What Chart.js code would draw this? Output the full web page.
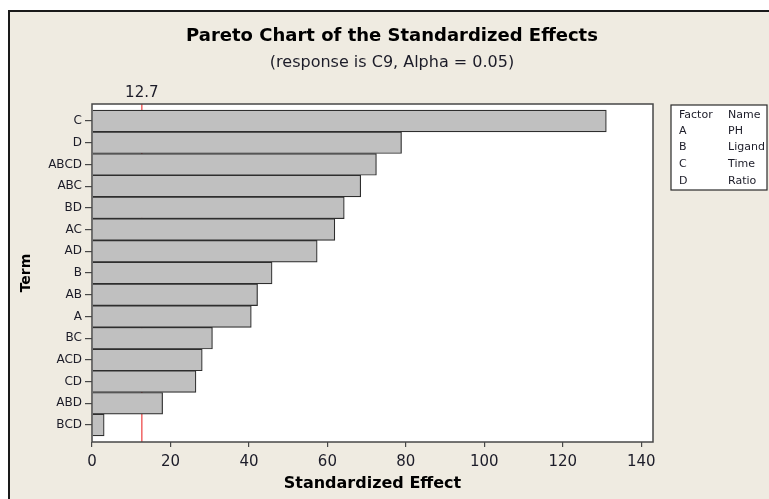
<!DOCTYPE html>
<html>
<head>
<meta charset="utf-8">
<script src="https://cdn.jsdelivr.net/npm/chart.js@4"></script>
<style>
  body { margin: 0; background: #ffffff; }
  canvas { display: block; }
</style>
</head>
<body>
<canvas id="pareto" width="769" height="499"></canvas>
<script>
// data
const terms = ['C', 'D', 'ABCD', 'ABC', 'BD', 'AC', 'AD', 'B', 'AB', 'A', 'BC', 'ACD', 'CD', 'ABD', 'BCD'];
const effects = [131.1, 78.9, 72.5, 68.5, 64.3, 61.9, 57.4, 45.9, 42.2, 40.6, 30.7, 28.1, 26.5, 18.0, 3.1];
const xTicks = [0, 20, 40, 60, 80, 100, 120, 140];
const criticalValue = 12.7;
const factors = ['A', 'B', 'C', 'D'];
const factorNames = ['PH', 'Ligand', 'Time', 'Ratio'];

const beige = '#efebe1';
const frameColor = '#474747';
const textColor = '#1c1c28';

// background, white plot area and the beige frame
const backdrop = {
    id: 'backdrop',
    beforeDraw(chart) {
        const ctx = chart.ctx;
        const a = chart.chartArea;
        ctx.save();
        ctx.fillStyle = '#ffffff';
        ctx.fillRect(0, 0, chart.width, chart.height);
        ctx.fillStyle = beige;
        ctx.fillRect(9, 11, chart.width - 9, chart.height - 11);
        ctx.strokeStyle = '#1a1a1a';
        ctx.lineWidth = 2;
        ctx.beginPath();
        ctx.moveTo(9, chart.height);
        ctx.lineTo(9, 11);
        ctx.lineTo(chart.width, 11);
        ctx.stroke();
        ctx.fillStyle = '#ffffff';
        ctx.fillRect(a.left, a.top, a.right - a.left, a.bottom - a.top);
        ctx.restore();
    }
};

// red reference line, drawn under the bars
const refLine = {
    id: 'refLine',
    beforeDatasetsDraw(chart) {
        const ctx = chart.ctx;
        const a = chart.chartArea;
        const x = chart.scales.x.getPixelForValue(criticalValue);
        ctx.save();
        ctx.strokeStyle = '#f06464';
        ctx.lineWidth = 1.5;
        ctx.beginPath();
        ctx.moveTo(x, a.top);
        ctx.lineTo(x, a.bottom);
        ctx.stroke();
        ctx.restore();
    },
    afterDatasetsDraw(chart) {
        const ctx = chart.ctx;
        const a = chart.chartArea;
        const x = chart.scales.x.getPixelForValue(criticalValue);
        ctx.save();
        // plot frame
        ctx.strokeStyle = frameColor;
        ctx.lineWidth = 1.5;
        ctx.strokeRect(a.left, a.top, a.right - a.left, a.bottom - a.top);
        // label of the line
        ctx.fillStyle = textColor;
        ctx.font = '15px "DejaVu Sans"';
        ctx.textAlign = 'center';
        ctx.textBaseline = 'middle';
        ctx.fillText(String(criticalValue), x, a.top - 11);
        ctx.restore();
    }
};

// factor / name table on the right
const factorTable = {
    id: 'factorTable',
    afterDraw(chart) {
        const ctx = chart.ctx;
        ctx.save();
        ctx.fillStyle = '#ffffff';
        ctx.fillRect(671, 105, 96, 85);
        ctx.strokeStyle = '#2a2a2a';
        ctx.lineWidth = 1.2;
        ctx.strokeRect(671, 105, 96, 85);
        ctx.fillStyle = textColor;
        ctx.font = '11px "DejaVu Sans"';
        ctx.textBaseline = 'middle';
        ctx.fillText('Factor', 679, 115);
        ctx.fillText('Name', 728, 115);
        for (let i = 0; i < factors.length; i++) {
            const y = 131 + i * 16.6;
            ctx.fillText(factors[i], 679, y);
            ctx.fillText(factorNames[i], 728, y);
        }
        ctx.restore();
    }
};

const ctx = document.getElementById('pareto').getContext('2d');

new Chart(ctx, {
    type: 'bar',
    data: {
        datasets: [{
            label: 'Standardized Effect',
            data: terms.map((t, i) => ({ x: effects[i], y: i })),
            backgroundColor: '#c0c0c0',
            borderColor: '#2e2e2e',
            borderWidth: 1.2,
            barPercentage: 1,
            categoryPercentage: 1
        }]
    },
    options: {
        indexAxis: 'y',
        responsive: false,
        animation: false,
        devicePixelRatio: 1,
        layout: { padding: { left: 15, right: 0, top: 0, bottom: 0 } },
        plugins: {
            legend: { display: false },
            tooltip: { enabled: false },
            title: {
                display: true,
                text: 'Pareto Chart of the Standardized Effects',
                color: '#000000',
                font: { family: 'DejaVu Sans', size: 18, weight: 'bold' },
                padding: { top: 25.2, bottom: 2 }
            },
            subtitle: {
                display: true,
                text: '(response is C9, Alpha = 0.05)',
                color: textColor,
                font: { family: 'DejaVu Sans', size: 16 },
                padding: { top: 4.6, bottom: 31.4 }
            }
        },
        scales: {
            x: {
                type: 'linear',
                min: 0,
                max: 143,
                afterFit(scale) { scale.height = 57; },
                afterBuildTicks(scale) { scale.ticks = xTicks.map(v => ({ value: v })); },
                border: { display: false },
                grid: { drawOnChartArea: false, tickLength: 5, color: frameColor, lineWidth: 1.2 },
                ticks: {
                    color: textColor,
                    padding: 6,
                    font: { family: 'DejaVu Sans', size: 15 }
                },
                title: {
                    display: true,
                    text: 'Standardized Effect',
                    color: '#000000',
                    font: { family: 'DejaVu Sans', size: 16, weight: 'bold' },
                    padding: { top: 0, bottom: 6 }
                }
            },
            y: {
                type: 'linear',
                reverse: true,
                offset: false,
                min: -0.78,
                max: 14.78,
                afterFit(scale) { scale.width = 77; },
                afterBuildTicks(scale) { scale.ticks = terms.map((t, i) => ({ value: i })); },
                border: { display: false },
                grid: { offset: false, drawOnChartArea: false, tickLength: 7, color: frameColor, lineWidth: 1.2 },
                ticks: {
                    color: textColor,
                    padding: 3,
                    autoSkip: false,
                    font: { family: 'DejaVu Sans', size: 12 },
                    callback: (v) => terms[v]
                },
                title: {
                    display: true,
                    text: 'Term',
                    color: '#000000',
                    font: { family: 'DejaVu Sans', size: 14, weight: 'bold' },
                    padding: { top: 3, bottom: 0 }
                }
            },
            // empty axis that keeps room for the factor table
            side: {
                type: 'linear',
                position: 'right',
                afterFit(scale) { scale.width = 116; },
                border: { display: false },
                grid: { display: false },
                ticks: { display: false }
            }
        }
    },
    plugins: [backdrop, refLine, factorTable]
});
</script>
</body>
</html>
